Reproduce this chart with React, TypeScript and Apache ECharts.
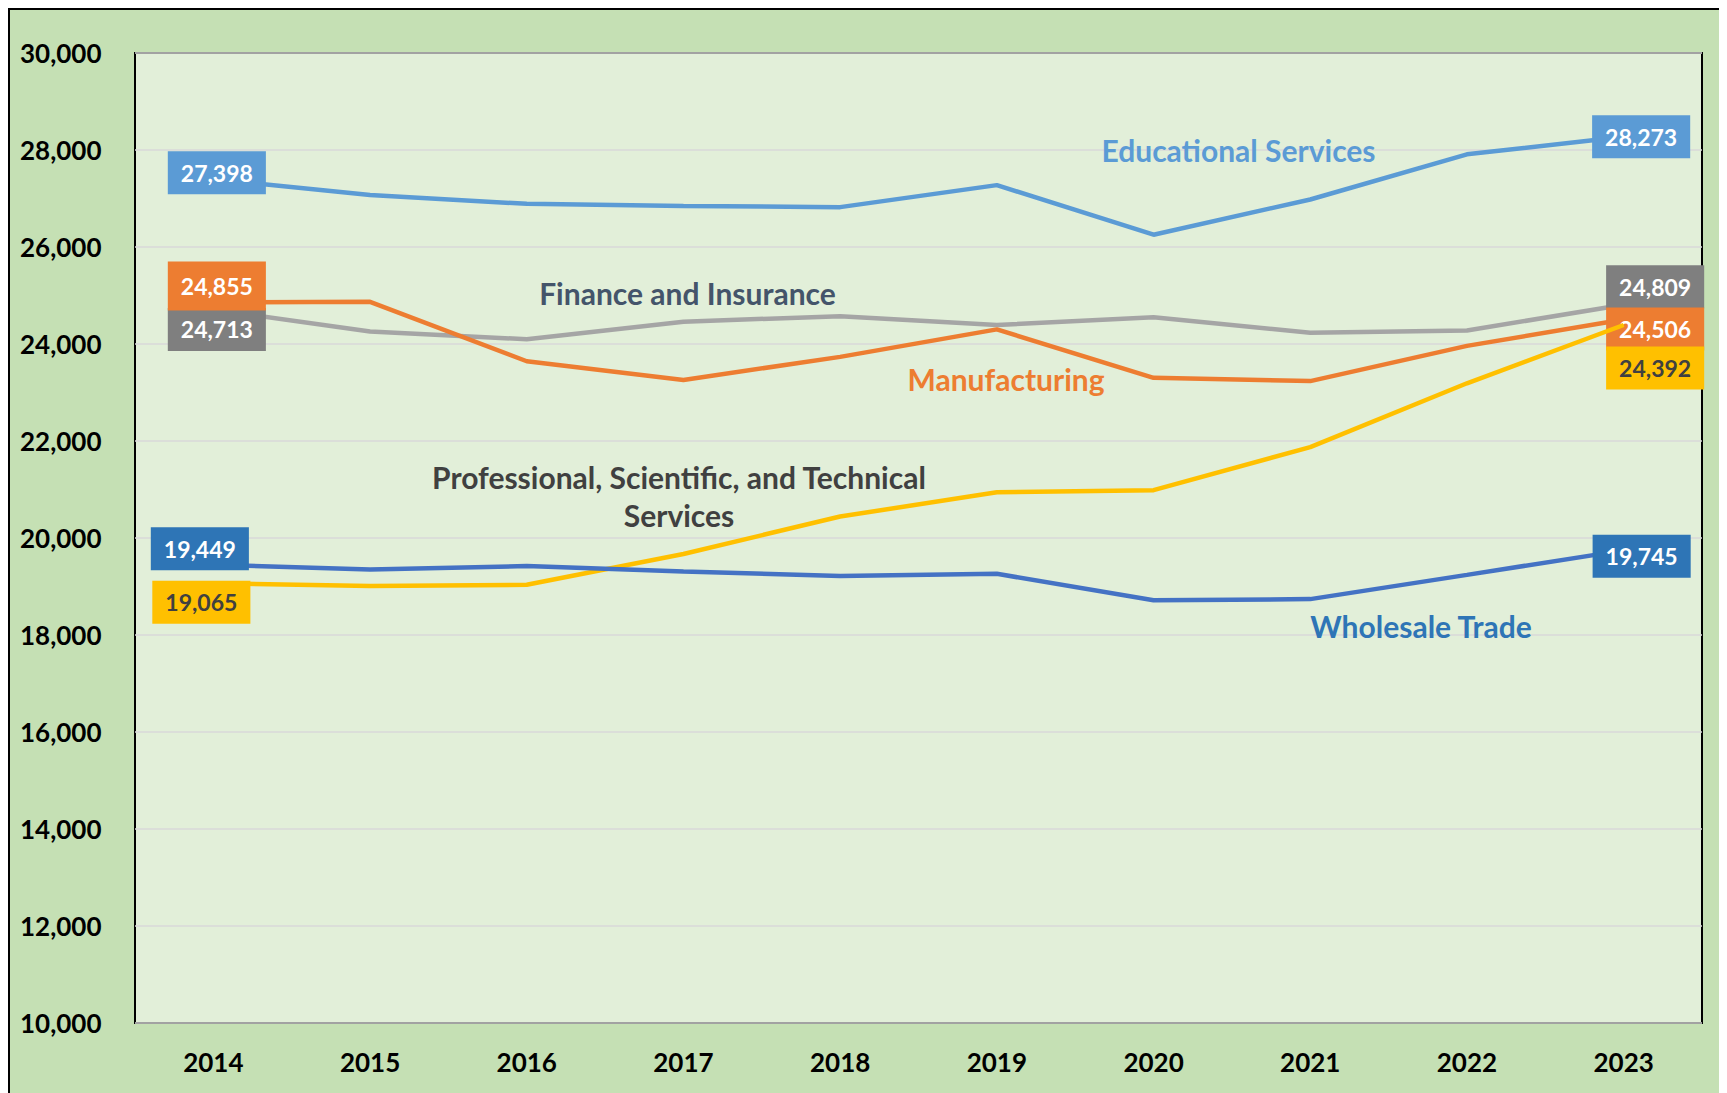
import React, { useEffect, useRef } from "react";
import * as echarts from "echarts";

const years = ["2014", "2015", "2016", "2017", "2018", "2019", "2020", "2021", "2022", "2023"];
const educational = [27398, 27072, 26890, 26845, 26822, 27276, 26254, 26980, 27911, 28273];
const finance = [24713, 24257, 24098, 24461, 24574, 24393, 24552, 24234, 24279, 24809];
const manufacturing = [24855, 24870, 23644, 23258, 23735, 24302, 23303, 23235, 23961, 24506];
const professional = [19065, 19012, 19035, 19671, 20443, 20942, 20987, 21873, 23190, 24392];
const wholesale = [19449, 19353, 19421, 19308, 19217, 19262, 18717, 18740, 19240, 19745];

const FONT = "Lato";

type LabelCfg = { bg: string; fg: string; first: [number, number]; last: [number, number]; firstPad?: number[] };

function buildData(values: number[], cfg: LabelCfg) {
  return values.map((v, i) => {
    if (i !== 0 && i !== values.length - 1) return v;
    return {
      value: v,
      label: {
        show: true,
        position: "inside",
        formatter: (p: any) => Number(p.value).toLocaleString("en-US"),
        backgroundColor: cfg.bg,
        color: cfg.fg,
        fontFamily: FONT,
        fontWeight: "bold",
        fontSize: 23,
        padding: i === 0 && cfg.firstPad ? cfg.firstPad : [10, 13, 10, 13],
      },
    };
  });
}

function lineSeries(name: string, values: number[], color: string, cfg: LabelCfg, z: number) {
  const last = values.length - 1;
  return {
    name,
    type: "line",
    data: buildData(values, cfg),
    symbol: "circle",
    symbolSize: 1,
    showSymbol: true,
    itemStyle: { color },
    lineStyle: { color, width: 4.5 },
    z,
    labelLayout: (params: any) => {
      if (params.dataIndex === 0) return { dx: cfg.first[0], dy: cfg.first[1], hideOverlap: false };
      if (params.dataIndex === last) return { dx: cfg.last[0], dy: cfg.last[1], hideOverlap: false };
      return {};
    },
  };
}

export default function App() {
  const ref = useRef<HTMLDivElement>(null);
  useEffect(() => {
    if (!ref.current) return;
    const chart = echarts.init(ref.current, null, { renderer: "svg" });
    chart.setOption({
      animation: false,
      backgroundColor: "transparent",
      grid: {
        left: 125,
        top: 43,
        right: 25,
        bottom: 70,
        show: true,
        backgroundColor: "#E2EFD9",
        borderColor: "#000000",
        borderWidth: 2,
      },
      xAxis: {
        type: "category",
        data: years,
        boundaryGap: true,
        axisLine: { show: false },
        axisTick: { show: false },
        axisLabel: { color: "#000", fontFamily: FONT, fontWeight: "bold", fontSize: 26, margin: 26 },
      },
      yAxis: {
        type: "value",
        min: 10000,
        max: 30000,
        interval: 2000,
        axisLine: { show: false },
        axisTick: { show: false },
        splitLine: { lineStyle: { color: "#D9D9D9", width: 1.5 } },
        axisLabel: {
          color: "#000",
          fontFamily: FONT,
          fontWeight: "bold",
          fontSize: 26,
          align: "left",
          margin: 115,
          formatter: (v: number) => v.toLocaleString("en-US"),
        },
      },
      series: [
        lineSeries("Finance and Insurance", finance, "#A5A5A5", { bg: "#7F7F7F", fg: "#FFFFFF", first: [3.5, 20], last: [31.5, -18] }, 2),
        lineSeries("Manufacturing", manufacturing, "#ED7D31", { bg: "#ED7D31", fg: "#FFFFFF", first: [3.5, -16.5], last: [31.5, 9.5], firstPad: [13, 13, 13, 13] }, 3),
        lineSeries("Professional, Scientific, and Technical Services", professional, "#FFC000", { bg: "#FFC000", fg: "#404040", first: [-12, 19], last: [31.5, 43] }, 4),
        lineSeries("Wholesale Trade", wholesale, "#4472C4", { bg: "#2E75B6", fg: "#FFFFFF", first: [-13.5, -16], last: [18, 6] }, 5),
        lineSeries("Educational Services", educational, "#5B9BD5", { bg: "#5B9BD5", fg: "#FFFFFF", first: [3.5, -6.5], last: [17.5, 0] }, 6),
      ],
      graphic: [
        { type: "text", x: 1228.5, y: 140, style: { text: "Educational Services", fill: "#5B9BD5", font: `bold 30px ${FONT}`, align: "center", verticalAlign: "middle" }, z: 10 },
        { type: "text", x: 677.5, y: 282.5, style: { text: "Finance and Insurance", fill: "#44546A", font: `bold 30px ${FONT}`, align: "center", verticalAlign: "middle" }, z: 10 },
        { type: "text", x: 996, y: 369, style: { text: "Manufacturing", fill: "#ED7D31", font: `bold 30px ${FONT}`, align: "center", verticalAlign: "middle" }, z: 10 },
        { type: "text", x: 669, y: 486, style: { text: "Professional, Scientific, and Technical\nServices", fill: "#404040", font: `bold 30px ${FONT}`, lineHeight: 38, align: "center", verticalAlign: "middle" }, z: 10 },
        { type: "text", x: 1411, y: 616, style: { text: "Wholesale Trade", fill: "#2E75B6", font: `bold 30px ${FONT}`, align: "center", verticalAlign: "middle" }, z: 10 },
      ],
    });
    return () => chart.dispose();
  }, []);
  return (
    <div
      style={{
        width: 1719,
        height: 1085,
        boxSizing: "border-box",
        borderLeft: "2px solid #000",
        borderTop: "2px solid #000",
        background: "#C5E0B4",
      }}
    >
      <div ref={ref} style={{ width: 1717, height: 1083 }} />
    </div>
  );
}
